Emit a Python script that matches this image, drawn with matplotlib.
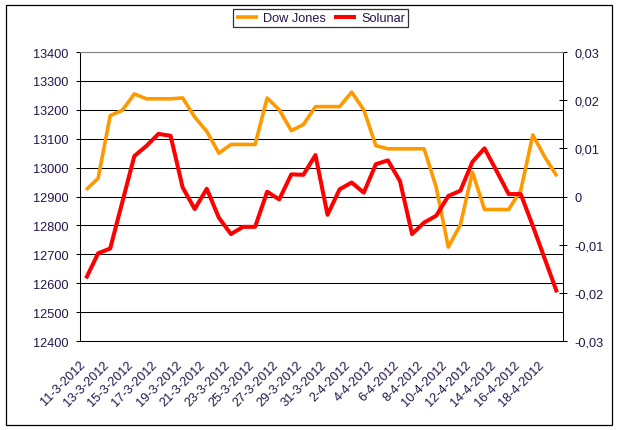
import matplotlib
matplotlib.use("Agg")
import matplotlib.pyplot as plt
import matplotlib.transforms as mtransforms
from matplotlib.patches import Rectangle
from matplotlib.ticker import FuncFormatter, MultipleLocator
import datetime as dt

# ---- data ----
start = dt.date(2012, 3, 11)
dates = [start + dt.timedelta(days=i) for i in range(40)]
categories = [f"{d.day}-{d.month}-{d.year}" for d in dates]

dow_jones = [12923, 12963, 13180, 13198, 13255, 13238, 13238, 13238, 13241, 13175,
             13125, 13050, 13080, 13080, 13080, 13241, 13200, 13128, 13149, 13211,
             13211, 13211, 13261, 13200, 13076, 13065, 13065, 13065, 13065, 12932,
             12725, 12802, 12984, 12855, 12855, 12855, 12921, 13113, 13036, 12970]

solunar = [-0.0170, -0.0118, -0.0108, -0.0012, 0.0084, 0.0105, 0.0130, 0.0126, 0.0019, -0.0026,
           0.0016, -0.0044, -0.0078, -0.0063, -0.0063, 0.0010, -0.0006, 0.0046, 0.0045, 0.0086,
           -0.0038, 0.0015, 0.0029, 0.0008, 0.0067, 0.0075, 0.0032, -0.0078, -0.0054, -0.0040,
           0.0001, 0.0012, 0.0072, 0.0100, 0.0053, 0.0005, 0.0005, -0.0061, -0.0130, -0.0199]

series_names = ["Dow Jones", "Solunar"]

# ---- style ----
TXT = "#241448"
plt.rcParams["font.family"] = ["Liberation Sans", "DejaVu Sans"]
FS = 9.2

W, H = 619, 431
fig = plt.figure(figsize=(W / 100, H / 100), dpi=100)
fig.patch.set_facecolor("white")

L, R, T, B = 80, 563, 53, 342
ax = fig.add_axes([L / W, (H - B) / H, (R - L) / W, (B - T) / H])
ax2 = ax.twinx()

x = list(range(len(categories)))
l1, = ax.plot(x, dow_jones, color="#FF9900", lw=2.6, solid_joinstyle="round",
              solid_capstyle="butt", zorder=3, label=series_names[0])
l2, = ax2.plot(x, solunar, color="#FF0000", lw=2.9, solid_joinstyle="round",
               solid_capstyle="butt", zorder=3, label=series_names[1])

ax.set_xlim(-0.5, len(categories) - 0.5)
ax.set_ylim(12400, 13400)
ax.yaxis.set_major_locator(MultipleLocator(100))
ax2.set_ylim(-0.03, 0.03)
ax2.yaxis.set_major_locator(MultipleLocator(0.01))


def comma_fmt(v, pos):
    v = round(v, 2)
    if abs(v) < 1e-9:
        return "0"
    return f"{v:.2f}".replace(".", ",")


ax2.yaxis.set_major_formatter(FuncFormatter(comma_fmt))
ax.yaxis.set_major_formatter(FuncFormatter(lambda v, p: f"{int(round(v))}"))

# grid
ax.set_axisbelow(True)
ax.yaxis.grid(True, color="black", lw=0.75)
gls = ax.get_ygridlines()
if gls:
    gls[-1].set_color("#808080")

# spines
for a in (ax, ax2):
    a.spines["top"].set_color("#808080")
    a.spines["top"].set_linewidth(0.75)
    a.spines["left"].set_linewidth(0.75)
    a.spines["right"].set_linewidth(0.75)
    a.spines["bottom"].set_linewidth(0.75)
ax2.spines["left"].set_visible(False)
ax2.spines["bottom"].set_visible(False)
ax.spines["right"].set_visible(False)

ax.tick_params(axis="y", direction="out", length=3, width=0.75, pad=5.5,
               labelsize=FS, labelcolor=TXT)
ax2.tick_params(axis="y", direction="inout", length=6, width=0.75, pad=5,
                labelsize=FS, labelcolor=TXT)

# x tick labels every second category
xt = x[::2]
ax.set_xticks(xt)
ax.set_xticklabels([categories[i] for i in xt])
ax.tick_params(axis="x", length=0, pad=0, labelsize=FS, labelcolor=TXT)
off = mtransforms.ScaledTranslation(-7 / 100, -17 / 100, fig.dpi_scale_trans)
for lab in ax.get_xticklabels():
    lab.set_rotation(45)
    lab.set_rotation_mode("anchor")
    lab.set_ha("right")
    lab.set_va("top")
    lab.set_transform(lab.get_transform() + off)

# legend
leg = fig.legend([l1, l2], series_names, loc="center",
                 bbox_to_anchor=(320.5 / W, 1 - 19 / H), ncol=2, frameon=True,
                 fancybox=False, fontsize=FS, handlelength=1.75, handletextpad=0.4,
                 columnspacing=0.6, borderpad=0.25, borderaxespad=0)
leg.get_frame().set_edgecolor("black")
leg.get_frame().set_linewidth(0.9)
for t in leg.get_texts():
    t.set_color(TXT)

# outer chart border
fig.add_artist(Rectangle((5.5 / W, 5.5 / H), 606 / W, 420 / H, transform=fig.transFigure,
                         fill=False, edgecolor="black", lw=0.9))

fig.savefig("out.png", dpi=100)
